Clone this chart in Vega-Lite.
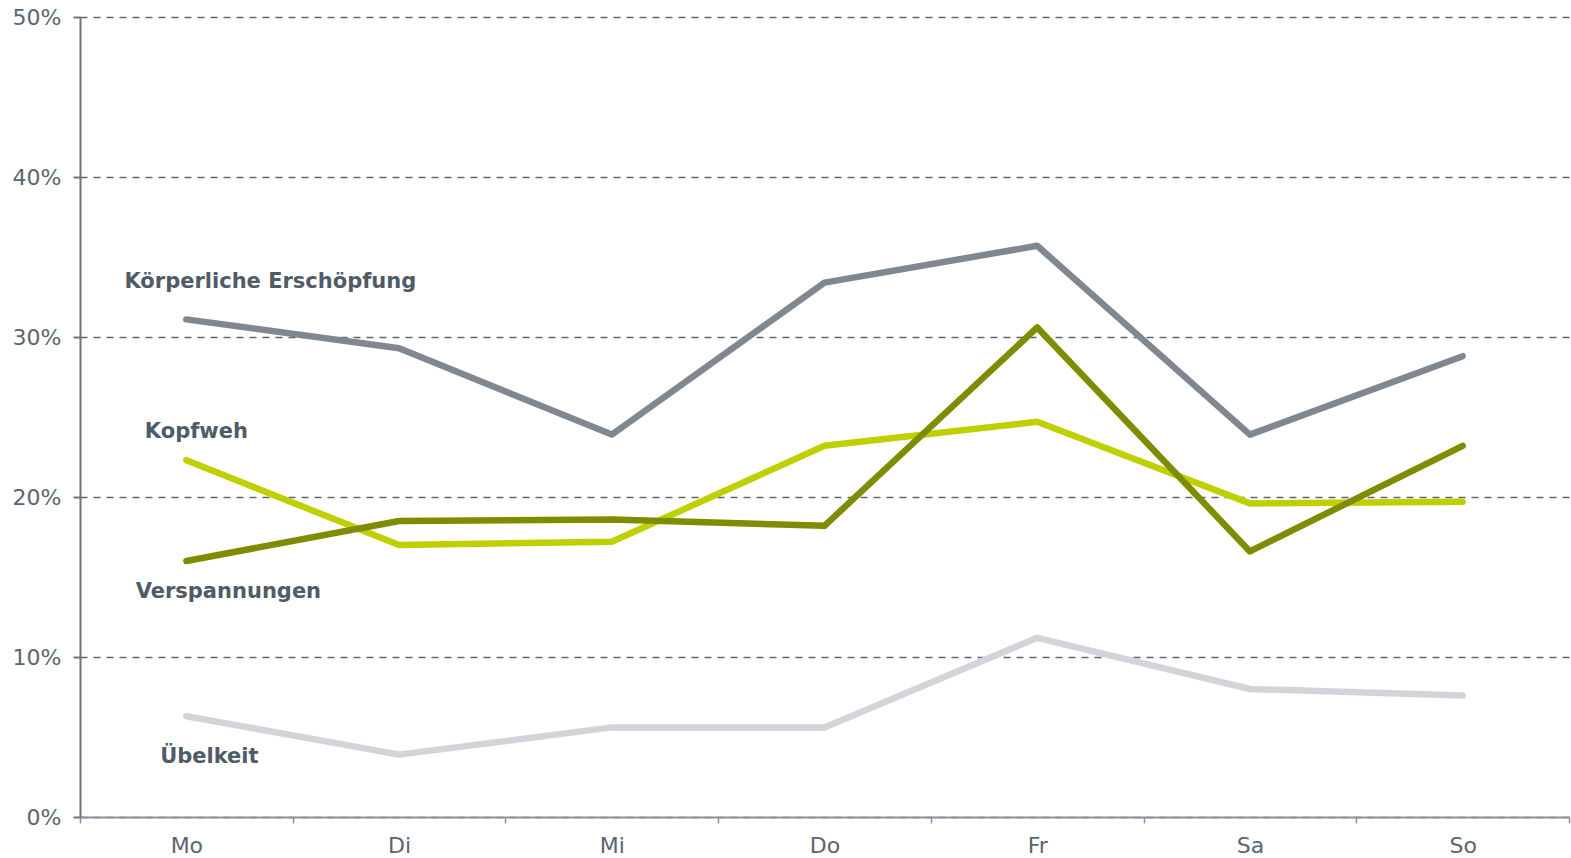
{
  "$schema": "https://vega.github.io/schema/vega-lite/v6.json",
  "width": 1489,
  "height": 800,
  "autosize": {"type": "none"},
  "padding": {"left": 80, "top": 17, "right": 2, "bottom": 41},
  "background": "white",
  "config": {
    "view": {"stroke": null},
    "font": "DejaVu Sans"
  },
  "data": {
    "values": [
      {"tag": "Mo", "serie": "Übelkeit", "wert": 0.063},
      {"tag": "Di", "serie": "Übelkeit", "wert": 0.039},
      {"tag": "Mi", "serie": "Übelkeit", "wert": 0.056},
      {"tag": "Do", "serie": "Übelkeit", "wert": 0.056},
      {"tag": "Fr", "serie": "Übelkeit", "wert": 0.112},
      {"tag": "Sa", "serie": "Übelkeit", "wert": 0.080},
      {"tag": "So", "serie": "Übelkeit", "wert": 0.076},
      {"tag": "Mo", "serie": "Kopfweh", "wert": 0.223},
      {"tag": "Di", "serie": "Kopfweh", "wert": 0.170},
      {"tag": "Mi", "serie": "Kopfweh", "wert": 0.172},
      {"tag": "Do", "serie": "Kopfweh", "wert": 0.232},
      {"tag": "Fr", "serie": "Kopfweh", "wert": 0.247},
      {"tag": "Sa", "serie": "Kopfweh", "wert": 0.196},
      {"tag": "So", "serie": "Kopfweh", "wert": 0.197},
      {"tag": "Mo", "serie": "Verspannungen", "wert": 0.160},
      {"tag": "Di", "serie": "Verspannungen", "wert": 0.185},
      {"tag": "Mi", "serie": "Verspannungen", "wert": 0.186},
      {"tag": "Do", "serie": "Verspannungen", "wert": 0.182},
      {"tag": "Fr", "serie": "Verspannungen", "wert": 0.306},
      {"tag": "Sa", "serie": "Verspannungen", "wert": 0.166},
      {"tag": "So", "serie": "Verspannungen", "wert": 0.232},
      {"tag": "Mo", "serie": "Körperliche Erschöpfung", "wert": 0.311},
      {"tag": "Di", "serie": "Körperliche Erschöpfung", "wert": 0.293},
      {"tag": "Mi", "serie": "Körperliche Erschöpfung", "wert": 0.239},
      {"tag": "Do", "serie": "Körperliche Erschöpfung", "wert": 0.334},
      {"tag": "Fr", "serie": "Körperliche Erschöpfung", "wert": 0.357},
      {"tag": "Sa", "serie": "Körperliche Erschöpfung", "wert": 0.239},
      {"tag": "So", "serie": "Körperliche Erschöpfung", "wert": 0.288}
    ]
  },
  "encoding": {
    "x": {
      "field": "tag", "type": "nominal", "bandPosition": 0.5,
      "sort": ["Mo", "Di", "Mi", "Do", "Fr", "Sa", "So"],
      "scale": {"type": "band", "paddingInner": 0, "paddingOuter": 0},
      "axis": {
        "title": null, "labelAngle": 0, "tickBand": "extent",
        "domainColor": "#8a939c", "domainWidth": 2,
        "tickColor": "#8a939c", "tickWidth": 1.5, "tickSize": 6,
        "labelColor": "#5a6570", "labelFontSize": 22, "labelFont": "DejaVu Sans",
        "labelPadding": 12, "grid": false
      }
    },
    "y": {
      "field": "wert", "type": "quantitative",
      "scale": {"domain": [0, 0.5], "nice": false},
      "axis": {
        "title": null, "values": [0, 0.1, 0.2, 0.3, 0.4, 0.5], "format": ".0%",
        "domainColor": "#6b7580", "domainWidth": 2,
        "tickColor": "#6b7580", "tickWidth": 2, "tickSize": 7,
        "labelColor": "#5a6570", "labelFontSize": 22, "labelFont": "DejaVu Sans",
        "labelPadding": 12,
        "grid": true, "gridColor": "#5b6670", "gridWidth": 1.5, "gridDash": [7, 6]
      }
    }
  },
  "layer": [
    {
      "mark": {"type": "line", "strokeWidth": 6.5, "strokeCap": "round", "strokeJoin": "round"},
      "encoding": {
        "color": {
          "field": "serie", "type": "nominal", "legend": null,
          "scale": {
            "domain": ["Übelkeit", "Kopfweh", "Verspannungen", "Körperliche Erschöpfung"],
            "range": ["#d3d4d9", "#c0cf00", "#7f8c00", "#7f8891"]
          }
        },
        "order": {"value": null}
      }
    },
    {
      "transform": [{"filter": "datum.tag == 'Mo' && datum.serie == 'Körperliche Erschöpfung'"}],
      "mark": {"type": "text", "fontWeight": "bold", "fontSize": 21, "color": "#4f5b66", "baseline": "middle", "align": "center", "dx": 84, "dy": -37},
      "encoding": {"text": {"field": "serie"}}
    },
    {
      "transform": [{"filter": "datum.tag == 'Mo' && datum.serie == 'Kopfweh'"}],
      "mark": {"type": "text", "fontWeight": "bold", "fontSize": 21, "color": "#4f5b66", "baseline": "middle", "align": "center", "dx": 10, "dy": -28},
      "encoding": {"text": {"field": "serie"}}
    },
    {
      "transform": [{"filter": "datum.tag == 'Mo' && datum.serie == 'Verspannungen'"}],
      "mark": {"type": "text", "fontWeight": "bold", "fontSize": 21, "color": "#4f5b66", "baseline": "middle", "align": "center", "dx": 42, "dy": 31},
      "encoding": {"text": {"field": "serie"}}
    },
    {
      "transform": [{"filter": "datum.tag == 'Mo' && datum.serie == 'Übelkeit'"}],
      "mark": {"type": "text", "fontWeight": "bold", "fontSize": 21, "color": "#4f5b66", "baseline": "middle", "align": "center", "dx": 23, "dy": 41},
      "encoding": {"text": {"field": "serie"}}
    }
  ]
}
